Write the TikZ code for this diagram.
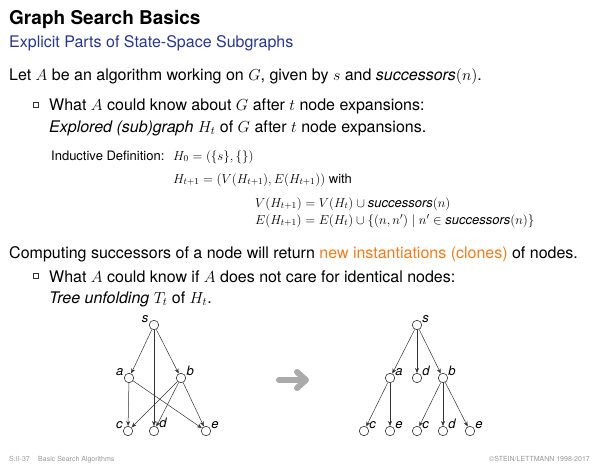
\RequirePackage{fix-cm}
\documentclass[tikz,border=0pt]{standalone}
\usepackage{amsmath}
\usepackage{fontspec}
\setmainfont{TeX Gyre Heros}
\usetikzlibrary{arrows.meta}

\definecolor{titleblue}{RGB}{40,54,140}
\definecolor{cloneorange}{RGB}{240,124,30}
\definecolor{footgray}{RGB}{150,150,150}
\definecolor{arrowgray}{RGB}{170,170,170}

\newcommand{\bodysize}{\fontsize{16}{19}\selectfont}
\newcommand{\defsize}{\fontsize{13}{15}\selectfont}

\begin{document}
\begin{tikzpicture}[x=1pt,y=-1pt,
    txt/.style={anchor=base west,inner sep=0pt,font=\bodysize},
    deftxt/.style={anchor=base west,inner sep=0pt,font=\defsize},
    foot/.style={inner sep=0pt,font=\fontsize{7}{8}\selectfont,text=footgray},
    bulletbox/.style={draw=black!80,line width=0.6pt},
    vertex/.style={circle,draw=black!80,line width=0.6pt,inner sep=0pt,minimum size=9.5pt},
    lbl/.style={font=\fontsize{13}{15}\selectfont\itshape,inner sep=0.5pt,label distance=0pt},
    edge/.style={-{Stealth[length=5pt,width=4pt]},line width=0.5pt,draw=black!80}]
    \useasboundingbox (0,0) rectangle (600,467);

    % title
    \node[anchor=base west,inner sep=0pt,font=\fontsize{19}{22}\selectfont\bfseries] (title) at (9,24) {Graph Search Basics};
    \node[txt,text=titleblue] (subtitle) at (9,47) {Explicit Parts of State-Space Subgraphs};

    % text
    \node[txt] (let) at (9,80) {Let $A$ be an algorithm working on $G$, given by $s$ and \textit{successors}$(n)$.};
    \draw[bulletbox] (33,102) rectangle (38.5,107.5);
    \node[txt] (know) at (49,110) {What $A$ could know about $G$ after $t$ node expansions:};
    \node[txt] (explored) at (49,132) {\textit{Explored (sub)graph} $H_t$ of $G$ after $t$ node expansions.};
    \node[deftxt] (induct) at (51,160) {Inductive Definition:};
    \node[deftxt] (hzero) at (173,160) {$H_0 = (\{s\},\{\})$};
    \node[deftxt] (hnext) at (173,183) {$H_{t+1} = (V(H_{t+1}), E(H_{t+1}))$ with};
    \node[deftxt] (vnext) at (255,207) {$V(H_{t+1}) = V(H_t) \cup \textit{successors}(n)$};
    \node[deftxt] (enext) at (255,224) {$E(H_{t+1}) = E(H_t) \cup \{(n,n') \mid n' \in \textit{successors}(n)\}$};
    \node[txt] (comp) at (9,258) {Computing successors of a node will return \textcolor{cloneorange}{new instantiations (clones)} of nodes.};
    \draw[bulletbox] (33,273) rectangle (38.5,278.5);
    \node[txt] (care) at (49,282) {What $A$ could know if $A$ does not care for identical nodes:};
    \node[txt] (tree) at (49,303) {\textit{Tree unfolding} $T_t$ of $H_t$.};

    % graph H_t
    \node[vertex,label={[lbl]165:s}] (ls) at (154,325) {};
    \node[vertex,label={[lbl]165:a}] (la) at (129,378) {};
    \node[vertex,label={[lbl]15:b}] (lb) at (181,378) {};
    \node[vertex,label={[lbl]160:c}] (lc) at (128,431) {};
    \node[vertex,label={[lbl]25:d}] (ld) at (154,431) {};
    \node[vertex,label={[lbl]20:e}] (le) at (206,431) {};
    \draw[edge] (ls) -- (la);
    \draw[edge] (ls) -- (ld);
    \draw[edge] (ls) -- (lb);
    \draw[edge] (la) -- (lc);
    \draw[edge] (la) -- (le);
    \draw[edge] (lb) -- (lc);
    \draw[edge] (lb) -- (ld);
    \draw[edge] (lb) -- (le);

    % big arrow
    \draw[arrowgray,line width=6pt,line cap=round] (279,380) -- (304,380);
    \draw[arrowgray,line width=6pt,line cap=round,line join=round] (297,372) -- (306,380) -- (297,388);

    % tree unfolding T_t
    \node[vertex,label={[lbl]20:s}] (rs) at (417,325) {};
    \node[vertex,label={[lbl]20:a}] (ra) at (390,378) {};
    \node[vertex,label={[lbl]20:d}] (rd) at (417,378) {};
    \node[vertex,label={[lbl]20:b}] (rb) at (443,378) {};
    \node[vertex,label={[lbl]20:c}] (rca) at (364,431) {};
    \node[vertex,label={[lbl]20:e}] (rea) at (390,431) {};
    \node[vertex,label={[lbl]20:c}] (rcb) at (417,431) {};
    \node[vertex,label={[lbl]20:d}] (rdb) at (443,431) {};
    \node[vertex,label={[lbl]20:e}] (reb) at (470,431) {};
    \draw[edge] (rs) -- (ra);
    \draw[edge] (rs) -- (rd);
    \draw[edge] (rs) -- (rb);
    \draw[edge] (ra) -- (rca);
    \draw[edge] (ra) -- (rea);
    \draw[edge] (rb) -- (rcb);
    \draw[edge] (rb) -- (rdb);
    \draw[edge] (rb) -- (reb);

    % footer
    \node[foot,anchor=base west] (page) at (9,461) {S:II-37};
    \node[foot,anchor=base west] (chap) at (38,461) {Basic Search Algorithms};
    \node[foot,anchor=base east] (copy) at (590,461) {\textcopyright STEIN/LETTMANN 1998-2017};
\end{tikzpicture}
\end{document}
